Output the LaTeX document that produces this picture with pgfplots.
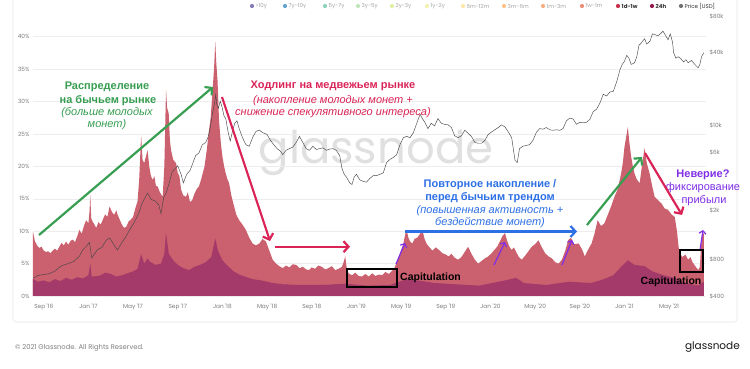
\documentclass[border=0pt]{standalone}
\usepackage{fontspec}
\setmainfont{Liberation Sans}
\newfontfamily\pop{Poppins}
\usepackage{pgfplots}
\usepackage{pgfplotstable}
\pgfplotsset{compat=1.18}
\usetikzlibrary{arrows.meta}
\definecolor{areaA}{RGB}{203,96,110}
\definecolor{areaB}{RGB}{163,58,106}
\definecolor{gtext}{RGB}{55,158,82}
\definecolor{rtext}{RGB}{218,36,88}
\definecolor{btext}{RGB}{45,112,230}
\definecolor{ptext}{RGB}{128,46,232}
\definecolor{tickc}{RGB}{125,125,125}
\pgfplotstableread{
m p
-0.96 9.9
-0.8 8.5
-0.6 7.8
-0.4 7.4
-0.2 7.6
0.0 7.0
0.2 6.8
0.4 6.9
0.6 6.6
0.8 7.0
1.0 7.3
1.2 7.0
1.4 7.6
1.6 8.2
1.8 7.8
2.0 8.4
2.2 7.9
2.4 8.5
2.6 8.7
2.8 8.3
3.0 9.2
3.2 10.2
3.4 9.6
3.6 10.8
3.8 11.7
4.0 11.2
4.1 13.0
4.17 15.6
4.25 12.0
4.4 11.4
4.55 11.0
4.7 10.5
4.9 11.4
5.1 11.0
5.3 11.8
5.5 12.6
5.7 12.2
5.9 13.8
6.1 13.0
6.3 12.5
6.5 13.2
6.6 12.6
6.8 11.8
7.0 11.0
7.2 10.5
7.4 10.7
7.6 11.5
7.8 11.8
8.0 12.2
8.2 13.5
8.4 14.6
8.55 18.0
8.72 24.8
8.85 21.0
9.0 20.5
9.15 21.5
9.3 22.5
9.45 20.0
9.6 18.5
9.76 17.9
9.9 18.5
10.05 17.0
10.2 16.9
10.4 16.0
10.65 15.3
10.8 20.0
10.95 31.8
11.05 29.0
11.19 28.2
11.3 24.0
11.4 22.5
11.6 21.0
11.85 20.5
12.0 19.0
12.15 18.5
12.3 16.4
12.5 15.5
12.74 15.3
12.9 16.0
13.1 14.5
13.3 14.8
13.5 15.8
13.7 16.5
13.9 16.9
14.1 18.0
14.25 19.0
14.4 20.0
14.6 22.5
14.8 25.6
14.95 27.5
15.1 31.3
15.25 35.0
15.36 39.2
15.45 36.0
15.56 33.3
15.7 27.0
15.86 23.6
16.0 21.5
16.15 20.0
16.3 18.9
16.45 18.0
16.6 17.4
16.8 15.5
17.05 13.8
17.25 12.5
17.5 11.7
17.8 11.0
18.1 10.2
18.4 9.0
18.7 8.1
19.0 7.8
19.3 8.1
19.6 8.8
19.9 8.4
20.2 7.0
20.5 5.6
20.8 5.0
21.1 4.6
21.4 4.3
21.7 4.7
22.0 4.4
22.3 4.9
22.6 4.8
22.9 4.3
23.2 4.5
23.5 4.1
23.75 4.0
24.0 4.4
24.3 4.2
24.6 4.7
24.9 4.5
25.2 4.1
25.5 4.3
25.8 4.6
26.1 4.0
26.4 4.2
26.7 4.5
26.85 5.2
27.0 6.1
27.15 4.0
27.3 3.5
27.6 3.2
27.9 3.6
28.2 3.1
28.5 3.0
28.8 3.4
29.1 3.0
29.4 3.5
29.7 3.1
30.0 3.3
30.3 3.2
30.6 3.7
30.9 3.4
31.2 3.9
31.4 4.3
31.6 5.2
31.8 6.0
32.0 7.1
32.2 8.0
32.35 9.4
32.5 10.2
32.65 9.0
32.8 8.4
33.0 8.1
33.2 8.8
33.45 9.0
33.7 9.6
33.9 10.2
34.1 8.8
34.3 8.0
34.5 7.6
34.8 7.0
35.1 7.5
35.4 7.1
35.7 6.6
36.0 6.4
36.25 6.1
36.5 6.5
36.8 5.9
37.1 5.6
37.4 6.0
37.7 6.8
38.0 7.6
38.3 6.5
38.6 5.6
38.9 5.0
39.2 5.4
39.5 5.8
39.8 6.1
40.1 6.6
40.4 7.2
40.6 7.6
40.9 8.6
41.1 9.3
41.3 9.7
41.5 8.5
41.7 7.6
41.9 7.1
42.1 7.5
42.3 6.8
42.55 6.0
42.8 5.6
43.1 6.2
43.4 6.9
43.7 7.6
44.0 8.0
44.3 8.6
44.6 7.5
44.9 6.6
45.2 6.1
45.5 5.8
45.8 5.2
46.1 5.0
46.4 5.6
46.7 7.0
46.96 8.6
47.2 9.0
47.5 8.0
47.9 8.1
48.2 7.2
48.45 6.1
48.7 7.0
49.05 8.1
49.3 9.5
49.6 11.7
49.9 10.8
50.2 11.2
50.5 12.5
50.8 13.8
51.1 15.3
51.4 16.5
51.7 18.9
51.85 20.5
52.0 23.0
52.15 24.5
52.3 26.1
52.45 23.5
52.6 21.5
52.75 20.0
52.9 18.9
53.1 18.0
53.36 17.4
53.6 20.5
53.8 22.8
54.0 20.5
54.25 18.9
54.5 16.8
54.7 15.3
55.0 14.8
55.3 14.3
55.6 13.5
55.9 13.3
56.2 12.6
56.5 12.2
56.7 10.0
56.85 7.5
56.95 6.6
57.2 6.0
57.45 6.4
57.7 5.6
57.9 6.0
58.1 5.2
58.3 4.7
58.6 4.0
58.75 4.5
58.85 7.5
58.95 9.2
59.1 9.7
}\totaltab
\pgfplotstableread{
m p
-0.96 2.6
-0.5 2.2
0.0 2.4
0.5 2.1
1.0 2.6
1.5 2.3
2.0 2.8
2.5 2.5
3.0 2.9
3.5 2.7
4.0 3.2
4.17 5.0
4.3 3.0
5.0 3.1
5.5 3.6
6.0 3.4
6.5 3.0
7.0 3.2
7.5 3.5
8.0 3.8
8.4 4.2
8.72 6.5
9.0 5.0
9.3 5.8
9.5 5.3
10.0 4.8
10.5 5.0
10.8 6.5
10.95 9.7
11.2 6.5
11.6 5.5
12.0 4.8
12.5 4.3
13.0 4.0
13.5 4.5
14.0 4.8
14.5 5.2
15.0 6.0
15.36 8.9
15.6 7.0
16.0 5.5
16.5 4.6
17.0 3.8
17.5 3.3
18.0 3.0
18.7 2.6
19.5 2.4
20.5 2.0
21.5 1.8
23 1.7
25 1.7
27 1.9
29 1.6
31 1.7
32.5 2.6
33.5 2.4
35 2.0
37 1.8
39 1.6
41.3 2.4
42.3 2.8
43 2.0
45 1.7
47 2.2
49 2.0
50 2.5
51 3.2
51.7 4.5
52.3 5.5
52.9 4.8
53.8 4.6
54.5 3.8
55.5 3.2
56.5 2.8
57.5 2.0
58.6 1.6
59.1 2.2
}\daytab
\pgfplotstableread{
m P
-0.96 560
-0.5 590
0.0 600
0.5 610
1.0 640
1.5 700
1.73 715
2.2 740
2.7 770
3.2 850
3.5 960
3.8 1020
4.1 1100
4.3 820
4.6 900
4.8 960
5.2 1000
5.6 1150
5.9 1200
6.3 1050
6.6 955
7.0 1100
7.4 1250
7.7 1400
8.0 1550
8.3 1750
8.5 1900
8.8 2300
9.1 2600
9.3 2800
9.6 2500
10.0 2400
10.3 2250
10.5 1900
10.75 2600
10.95 2800
11.2 3300
11.5 4200
11.8 4500
12.0 4700
12.3 4000
12.5 3400
12.8 4000
13.1 4300
13.3 4800
13.6 5700
13.9 6000
14.2 7000
14.5 7300
14.7 8000
14.9 9500
15.1 12500
15.3 15500
15.4 18000
15.5 15000
15.65 14000
15.8 16000
15.95 14500
16.15 12000
16.3 11500
16.5 9000
16.7 7500
16.9 9000
17.1 10500
17.3 11000
17.5 9500
17.8 8000
18.1 7000
18.4 6800
18.7 8000
19.0 9000
19.3 9250
19.6 8800
20.0 8500
20.3 7600
20.6 7000
20.9 6500
21.2 6200
21.4 5800
21.7 6300
22.0 6500
22.3 6700
22.6 7300
22.9 8200
23.2 7300
23.5 6500
23.8 6300
24.1 6800
24.4 6400
24.7 6500
25.0 6600
25.3 6300
25.6 6450
25.9 6500
26.2 6300
26.5 5700
26.7 4500
26.9 4000
27.1 3800
27.4 3400
27.6 3300
27.8 3800
28.0 4000
28.3 3600
28.6 3500
28.9 3450
29.2 3700
29.5 3900
29.8 3900
30.1 4000
30.4 4100
30.7 5000
31.0 5300
31.3 5500
31.6 5800
31.9 7000
32.2 8000
32.5 8200
32.8 8000
33.1 8800
33.4 10500
33.7 12500
33.9 11500
34.1 10800
34.4 9500
34.7 10500
35.0 10000
35.3 11500
35.6 10500
35.9 10300
36.2 10200
36.5 9700
36.8 8300
37.1 8000
37.4 8300
37.7 9200
38.0 8700
38.3 8200
38.6 7300
38.9 7200
39.2 7200
39.5 7600
39.8 8500
40.1 8900
40.4 9300
40.7 9700
41.0 10200
41.3 9800
41.6 8900
41.9 8000
42.2 5200
42.4 5000
42.6 6500
42.9 6800
43.2 6900
43.5 7000
43.8 7600
44.1 8800
44.4 9500
44.7 9400
45.0 9700
45.3 9300
45.6 9200
45.9 9300
46.2 9200
46.5 9500
46.8 11000
47.1 11600
47.4 11400
47.7 10300
48.0 10700
48.3 10600
48.6 10700
48.9 11300
49.2 13100
49.5 13700
49.8 15400
50.1 18200
50.4 17600
50.7 19000
51.0 19200
51.3 23000
51.6 29000
51.8 32000
52.0 34000
52.2 38000
52.4 36000
52.6 32000
52.9 33000
53.1 37000
53.3 46000
53.5 48000
53.8 52000
54.0 47000
54.3 50000
54.5 57000
54.8 56000
55.0 55000
55.3 58000
55.45 60000
55.7 55000
55.9 51000
56.1 57000
56.3 49000
56.4 40000
56.6 36000
56.8 37000
57.0 36000
57.3 33500
57.5 35000
57.7 33000
58.0 34500
58.3 32000
58.6 30000
58.75 32000
58.9 37000
59.1 40000
}\pricetab
\begin{document}
\begin{tikzpicture}
\path[use as bounding box] (0pt,0pt) rectangle (750pt,369pt);
\fill[white] (0pt,0pt) rectangle (750pt,369pt);
\draw[black!9, line width=0.6pt, rounded corners=3pt] (13pt,47pt) rectangle (737pt,380pt);
\node[text=black!12, font=\pop\fontsize{45}{45}\selectfont] at (376pt,216pt) {glassnode};
\begin{axis}[at={(33pt,73pt)}, anchor=south west, scale only axis,
  width=673pt, height=280pt,
  xmin=-0.96, xmax=59.3, ymin=0, ymax=43.2,
  axis line style={draw=none}, major tick length=0pt,
  ytick={0,5,...,40},
  yticklabels={0\%,5\%,10\%,15\%,20\%,25\%,30\%,35\%,40\%},
  xtick={0,4,...,56},
  xticklabels={Sep '16,Jan '17,May '17,Sep '17,Jan '18,May '18,Sep '18,Jan '19,May '19,Sep '19,Jan '20,May '20,Sep '20,Jan '21,May '21},
  ymajorgrids, grid style={black!7, line width=0.5pt},
  ticklabel style={font=\pop\fontsize{5.8}{6}\selectfont, text=tickc},
  xticklabel style={yshift=-4.5pt},
  clip=true]
\addplot[fill=areaA, draw=none] table[x=m,y=p] {\totaltab} \closedcycle;
\addplot[fill=areaB, draw=none] table[x=m,y=p] {\daytab} \closedcycle;
\end{axis}
\begin{axis}[at={(33pt,73pt)}, anchor=south west, scale only axis,
  width=673pt, height=280pt,
  xmin=-0.96, xmax=59.3, ymode=log, ymin=400, ymax=80000,
  axis line style={draw=none}, major tick length=0pt,
  xtick=\empty, yticklabel pos=right,
  ytick={400,800,2000,6000,10000,40000,80000},
  yticklabels={\$400,\$800,\$2k,\$6k,\$10k,\$40k,\$80k},
  ticklabel style={font=\pop\fontsize{5.8}{6}\selectfont, text=tickc},
  clip=true]
\addplot[draw=black!72, line width=0.45pt] table[x=m,y=P] {\pricetab};
\end{axis}
\begin{scope}[x=1pt, y=1pt, shift={(0pt,369pt)}, yscale=-1]
 % legend
 \foreach \x/\r/\g/\b/\t in {252/94/79/162/>10y, 285/50/136/189/7y-10y, 325/102/194/165/5y-7y, 358/171/221/164/3y-5y, 392/210/235/140/2y-3y, 427/240/238/150/1y-2y, 463/254/224/139/6m-12m, 504/253/174/97/3m-6m, 543/244/149/90/1m-3m, 582/228/105/78/1w-1m}{
   \definecolor{lc}{RGB}{\r,\g,\b}
   \fill[lc, opacity=0.75] (\x,6) circle (2.1pt);
   \node[anchor=west, inner sep=0pt, text=black!35, font=\pop\fontsize{5.5}{6}\selectfont] at (\x+3.5,6) {\t};
 }
 \definecolor{l1}{RGB}{200,50,75}
 \definecolor{l2}{RGB}{150,26,78}
 \fill[l1] (618,6) circle (2.1pt);
 \node[anchor=west, inner sep=0pt, text=black!80, font=\pop\bfseries\fontsize{5.5}{6}\selectfont] at (621.5,6) {1d-1w};
 \fill[l2] (652,6) circle (2.1pt);
 \node[anchor=west, inner sep=0pt, text=black!80, font=\pop\bfseries\fontsize{5.5}{6}\selectfont] at (655.5,6) {24h};
 \fill[black!55] (681,6) circle (2.1pt);
 \node[anchor=west, inner sep=0pt, text=black!80, font=\pop\fontsize{5.5}{6}\selectfont] at (684.5,6) {Price [USD]};
 % green annotation
 \node[text=gtext, font=\bfseries\fontsize{11}{13}\selectfont, inner sep=0pt] at (107,86.7) {Распределение};
 \node[text=gtext, font=\bfseries\fontsize{11}{13}\selectfont, inner sep=0pt] at (108,100.7) {на бычьем рынке};
 \node[text=gtext, font=\itshape\fontsize{11}{13}\selectfont, inner sep=0pt] at (107,113) {(больше молодых};
 \node[text=gtext, font=\itshape\fontsize{11}{13}\selectfont, inner sep=0pt] at (107,125) {монет)};
 % red annotation
 \node[text=rtext, font=\bfseries\fontsize{11}{13}\selectfont, inner sep=0pt] at (333,85.7) {Ходлинг на медвежьем рынке};
 \node[text=rtext, font=\itshape\fontsize{11}{13}\selectfont, inner sep=0pt] at (333,100.7) {(накопление молодых монет +};
 \node[text=rtext, font=\itshape\fontsize{11}{13}\selectfont, inner sep=0pt] at (333,113) {снижение спекулятивного интереса)};
 % blue annotation
 \node[text=btext, font=\bfseries\fontsize{11}{13}\selectfont, inner sep=0pt] at (490,185) {Повторное накопление /};
 \node[text=btext, font=\bfseries\fontsize{11}{13}\selectfont, inner sep=0pt] at (490,197.7) {перед бычьим трендом};
 \node[text=btext, font=\itshape\fontsize{11}{13}\selectfont, inner sep=0pt] at (490,210.7) {(повышенная активность +};
 \node[text=btext, font=\itshape\fontsize{11}{13}\selectfont, inner sep=0pt] at (490,222.5) {бездействие монет)};
 % purple annotation
 \node[text=ptext, font=\bfseries\fontsize{11}{13}\selectfont, inner sep=0pt] at (703,175) {Неверие?};
 \node[text=ptext, font=\fontsize{11}{13}\selectfont, inner sep=0pt] at (703,188) {фиксирование};
 \node[text=ptext, font=\fontsize{11}{13}\selectfont, inner sep=0pt] at (704,200.7) {прибыли};
 % arrows
 \tikzset{arr/.style={line width=2.2pt, -{Straight Barb[length=5pt,width=11pt,line width=2.2pt]}}}
 \draw[arr, gtext] (39,235) -- (213,87);
 \draw[arr, rtext] (222,97) -- (270,241);
 \draw[arr, rtext] (275,246.7) -- (350,246.7);
 \draw[arr, btext] (405,231.5) -- (577,231.5);
 \draw[arr, gtext] (587,225) -- (642,157);
 \draw[arr, rtext] (645,153) -- (682,215);
 \tikzset{parr/.style={ptext, line width=1.2pt, -{Straight Barb[length=3pt,width=7pt,line width=1.2pt]}}}
 \draw[parr] (396,264) -- (405,243);
 \draw[parr] (494,265) -- (505,242);
 \draw[parr] (562,265) -- (572,240);
 \draw[parr] (700,250) -- (703,230);
 % capitulation
 \draw[black, line width=1.1pt] (347,269) rectangle (397,287);
 \node[anchor=west, font=\bfseries\fontsize{10.5}{12}\selectfont, inner sep=0pt] at (400,278) {Capitulation};
 \draw[black, line width=1.1pt] (680,250) rectangle (703,272);
 \node[font=\bfseries\fontsize{10.5}{12}\selectfont, inner sep=0pt] at (671,281.5) {Capitulation};
 % footer
 \node[anchor=west, text=black!50, font=\pop\fontsize{6.8}{8}\selectfont, inner sep=0pt] at (15,348) {© 2021 Glassnode. All Rights Reserved.};
 \node[anchor=east, text=black!90, font=\pop\fontsize{10.5}{12}\selectfont, inner sep=0pt] at (740,347) {glassnode};
\end{scope}
\end{tikzpicture}
\end{document}
